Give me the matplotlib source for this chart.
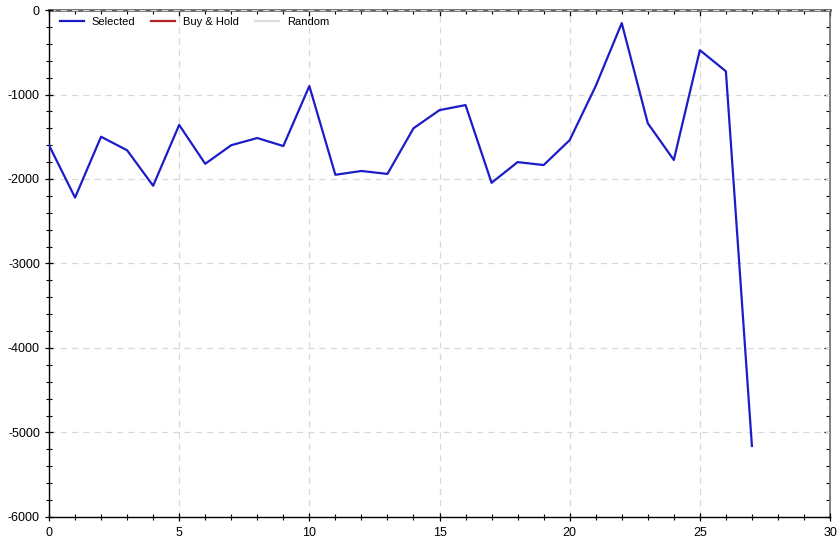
import matplotlib
matplotlib.use('Agg')
import matplotlib.pyplot as plt
from matplotlib.ticker import MultipleLocator

plt.rcParams['font.family'] = ['Liberation Sans', 'DejaVu Sans']
plt.rcParams['axes.unicode_minus'] = False

# values
trade_idx = list(range(28))
selected = [-1600, -2220, -1500, -1660, -2080, -1360, -1820, -1600, -1515, -1610,
            -900, -1950, -1905, -1940, -1400, -1185, -1125, -2045, -1800, -1835,
            -1540, -900, -155, -1340, -1775, -475, -725, -5160]
legend_labels = ['Selected', 'Buy & Hold', 'Random']

fig = plt.figure(figsize=(8.39, 5.41), dpi=100)
ax = fig.add_axes([0.0584, 0.0444, 0.9309, 0.9371])

ax.plot(trade_idx, selected, color='#1c1cc8', lw=1.6, label=legend_labels[0], zorder=3)
# empty series so the legend shows all three entries
ax.plot([], [], color='#b22222', lw=1.6, label=legend_labels[1])
ax.plot([], [], color='#dddddd', lw=1.6, label=legend_labels[2])

ax.set_xlim(0, 30)
ax.set_ylim(-6000, 0)
ax.xaxis.set_major_locator(MultipleLocator(5))
ax.xaxis.set_minor_locator(MultipleLocator(1))
ax.yaxis.set_major_locator(MultipleLocator(1000))
ax.yaxis.set_minor_locator(MultipleLocator(200))

ax.grid(True, which='major', color='#d8d8d8', linestyle=(0, (5, 4)), lw=0.9)
ax.tick_params(which='both', direction='inout', labelsize=9, color='black',
               top=False, right=False)
ax.tick_params(which='major', length=6, width=0.9)
ax.tick_params(which='minor', length=4, width=0.8)
ax.tick_params(axis='x', pad=4)

# top / right ticks point inward only, no labels
sec_x = ax.secondary_xaxis('top')
sec_y = ax.secondary_yaxis('right')
sec_x.xaxis.set_major_locator(MultipleLocator(5))
sec_x.xaxis.set_minor_locator(MultipleLocator(1))
sec_y.yaxis.set_major_locator(MultipleLocator(1000))
sec_y.yaxis.set_minor_locator(MultipleLocator(200))
sec_x.tick_params(which='both', direction='in', color='black', labeltop=False)
sec_y.tick_params(which='both', direction='in', color='black', labelright=False)
for sec in (sec_x, sec_y):
    sec.tick_params(which='major', length=4, width=0.9)
    sec.tick_params(which='minor', length=3, width=0.8)
sec_x.spines['top'].set_color('#666666')
sec_x.spines['top'].set_linewidth(2.0)
sec_y.spines['right'].set_color('#666666')
sec_y.spines['right'].set_linewidth(1.2)

for side in ['left', 'bottom']:
    ax.spines[side].set_color('black')
    ax.spines[side].set_linewidth(1.0)
ax.spines['top'].set_visible(False)
ax.spines['right'].set_visible(False)

ax.legend(loc='upper left', ncol=3, frameon=False, fontsize=8,
          handlelength=2.2, handletextpad=0.7, columnspacing=1.4,
          borderaxespad=0.2, bbox_to_anchor=(0.005, 1.0))

fig.savefig('out.png', dpi=100)
